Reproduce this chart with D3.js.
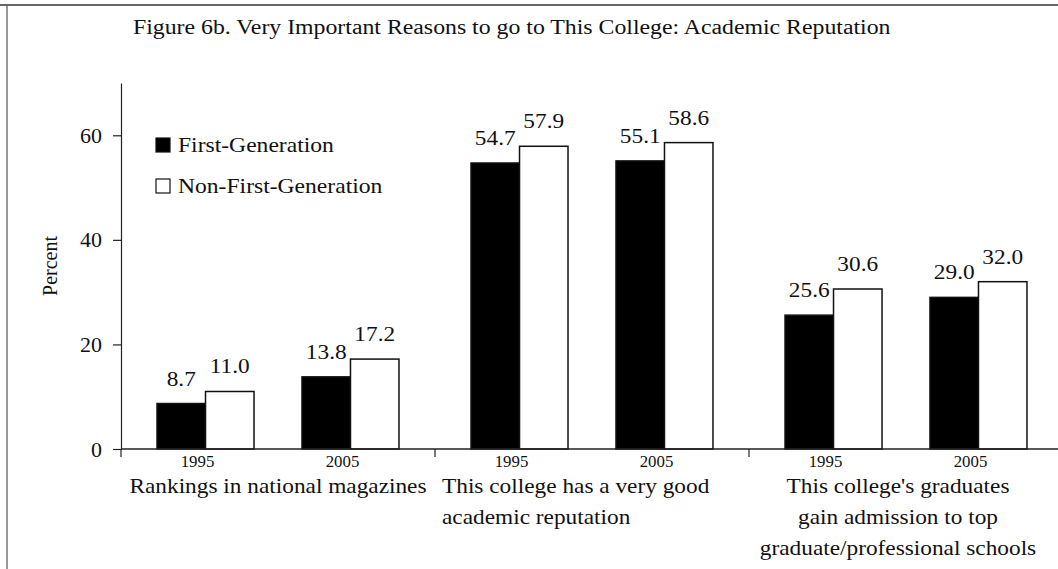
<!DOCTYPE html>
<html>
<head>
<meta charset="utf-8">
<script src="https://d3js.org/d3.v7.min.js"></script>
<style>
  body { margin: 0; background: #fff; }
  svg text { font-family: "Liberation Serif", "Times New Roman", serif; fill: #111; }
</style>
</head>
<body>
<script>
// chart data
var groups = ["Rankings", "Reputation", "Graduates"];
var groupLabels = [
    ["Rankings in national magazines"],
    ["This college has a very good", "academic reputation"],
    ["This college's graduates", "gain admission to top", "graduate/professional schools"]
];
var years = ["1995", "2005"];
var series = ["First-Generation", "Non-First-Generation"];
var firstGen    = [8.7, 13.8, 54.7, 55.1, 25.6, 29.0];
var nonFirstGen = [11.0, 17.2, 57.9, 58.6, 30.6, 32.0];
var yTicks = [0, 20, 40, 60];
var title = "Figure 6b.  Very Important Reasons to go to This College: Academic Reputation";

var W = 1058, H = 569;
var svg = d3.select("body").append("svg")
    .attr("width", W)
    .attr("height", H);

// the scan is a little stretched sideways, so text gets a horizontal scale
function label(parent, x, y, str, size, sx, anchor) {
    return parent.append("text")
        .attr("transform", "translate(" + x + "," + y + ") scale(" + sx + ",1)")
        .attr("text-anchor", anchor || "start")
        .style("font-size", size + "px")
        .text(str);
}

// frame of the scanned page
svg.append("line").attr("x1", 0).attr("x2", W).attr("y1", 5).attr("y2", 5)
    .attr("stroke", "#333").attr("stroke-width", 1.5);
svg.append("line").attr("x1", 7).attr("x2", 7).attr("y1", 5).attr("y2", H)
    .attr("stroke", "#555").attr("stroke-width", 1.2);

label(svg, 133, 34, title, 20, 1.19);

// flatten the data
var data = [];
groups.forEach(function(g, gi) {
    years.forEach(function(yr, yi) {
        var k = gi * 2 + yi;
        data.push({group: g, year: yr, series: series[0], value: firstGen[k]});
        data.push({group: g, year: yr, series: series[1], value: nonFirstGen[k]});
    });
});

var x0 = d3.scaleBand().domain(groups).range([121, 1063]);
var x1 = d3.scaleBand().domain(years).range([0, x0.bandwidth()]).paddingOuter(0.083);
var xs = d3.scaleBand().domain(series).range([-48.5, 48.5]);
var y = d3.scaleLinear().domain([0, 70]).range([449, 83]);

function cx(d) { return x0(d.group) + x1(d.year) + x1.bandwidth() / 2; }

// y axis
var yAxis = svg.append("g")
    .attr("transform", "translate(121,0)")
    .call(d3.axisLeft(y).tickValues(yTicks).tickSizeInner(8).tickSizeOuter(0).tickPadding(11));
yAxis.select(".domain").attr("stroke", "#222").attr("stroke-width", 1.2);
yAxis.selectAll(".tick line").attr("stroke", "#222").attr("stroke-width", 1.2);
yAxis.selectAll(".tick text")
    .style("font-size", "22px")
    .style("font-family", "'Liberation Serif', 'Times New Roman', serif")
    .attr("fill", "#111");

svg.append("text")
    .attr("transform", "translate(57," + (y(0) + y(70)) / 2 + ") rotate(-90)")
    .attr("text-anchor", "middle")
    .style("font-size", "20px")
    .text("Percent");

// bars
svg.selectAll("rect.bar")
    .data(data)
    .enter()
    .append("rect")
        .attr("class", "bar")
        .attr("x", d => cx(d) + xs(d.series))
        .attr("y", d => y(d.value))
        .attr("width", xs.bandwidth())
        .attr("height", d => y(0) - y(d.value))
        .attr("fill", d => d.series === series[0] ? "#000" : "#fff")
        .attr("stroke", "#111")
        .attr("stroke-width", 1.5);

// value labels
data.forEach(function(d) {
    label(svg, cx(d) + xs(d.series) + xs.bandwidth() / 2, y(d.value) - 18,
        d.value.toFixed(1), 22, 1.06, "middle");
});

// x axis line and group separators
svg.append("line")
    .attr("x1", x0.range()[0]).attr("x2", x0.range()[1])
    .attr("y1", y(0)).attr("y2", y(0))
    .attr("stroke", "#222").attr("stroke-width", 1.5);
var seps = groups.map(g => x0(g)).concat([x0.range()[1]]);
svg.selectAll("line.sep")
    .data(seps)
    .enter()
    .append("line")
        .attr("class", "sep")
        .attr("x1", d => d).attr("x2", d => d)
        .attr("y1", y(0)).attr("y2", y(0) + 8)
        .attr("stroke", "#222").attr("stroke-width", 1.2);

// year labels
groups.forEach(function(g) {
    years.forEach(function(yr) {
        label(svg, cx({group: g, year: yr}) - 8, 467, yr, 16, 1.05, "middle");
    });
});

// group labels
groups.forEach(function(g, gi) {
    groupLabels[gi].forEach(function(line, li) {
        var yy = 493 + li * 31;
        if (gi === 1) {
            label(svg, x0(g) + 7, yy, line, 22, 1.06, "start");
        } else {
            label(svg, x0(g) + x0.bandwidth() / 2 - (gi === 2 ? 8 : 0), yy, line, 22, 1.06, "middle");
        }
    });
});

// legend
var legend = svg.selectAll("g.legend")
    .data(series)
    .enter()
    .append("g")
        .attr("class", "legend")
        .attr("transform", (d, i) => "translate(156," + (138 + i * 41) + ")");
legend.append("rect")
    .attr("width", 14)
    .attr("height", 14)
    .attr("fill", (d, i) => i === 0 ? "#000" : "#fff")
    .attr("stroke", "#111")
    .attr("stroke-width", 1.2);
legend.each(function(d) {
    label(d3.select(this), 22, 14, d, 20, 1.18, "start");
});
</script>
</body>
</html>
